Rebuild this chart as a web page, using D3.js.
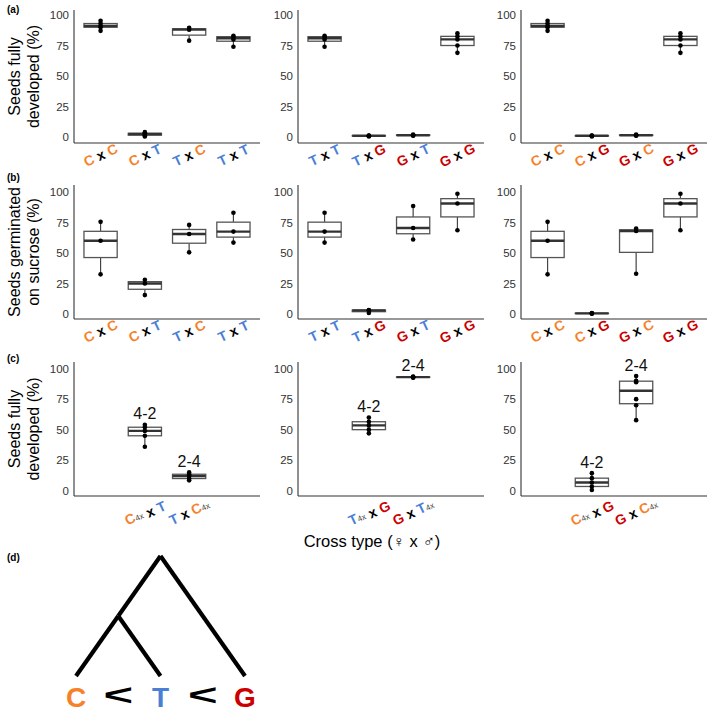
<!DOCTYPE html>
<html>
<head>
<meta charset="utf-8">
<script src="https://cdn.jsdelivr.net/npm/d3@7/dist/d3.min.js"></script>
<style>
  html, body { margin: 0; padding: 0; background: #fff; }
  svg { display: block; }
  text { font-family: 'Liberation Sans', Arial, Helvetica, sans-serif; }
</style>
</head>
<body>
<svg id="chart" width="709" height="712"></svg>
<script>
// ---------------- DATA ----------------
// Row (a): seeds fully developed (%)
const crossesA1 = ["C x C", "C x T", "T x C", "T x T"];
const seedsA1 = [[87, 90, 91, 93, 95.3], [0.5, 1.5, 2.5, 3, 4], [79, 88, 89.5], [74, 80, 82, 83]];
const crossesA2 = ["T x T", "T x G", "G x T", "G x G"];
const seedsA2 = [[74, 80, 82, 83], [0.5, 1, 1, 1.2], [1, 1.5, 1.5, 2], [69, 75, 80, 82.5, 85]];
const crossesA3 = ["C x C", "C x G", "G x C", "G x G"];
const seedsA3 = [[87, 90, 91, 93, 95.3], [0.5, 1, 1, 1.3], [1, 1.5, 1.5, 2], [69, 75, 80, 82.5, 85]];

// Row (b): seeds germinated on sucrose (%)
const crossesB1 = ["C x C", "C x T", "T x C", "T x T"];
const germB1 = [[32.5, 60, 75.5], [15.5, 25, 28], [50.5, 65.5, 73], [58.5, 67.5, 83]];
const crossesB2 = ["T x T", "T x G", "G x T", "G x G"];
const germB2 = [[58.5, 67.5, 83], [0.8, 3, 3.3], [61, 70.5, 88.5], [68.6, 90.5, 98.5]];
const crossesB3 = ["C x C", "C x G", "G x C", "G x G"];
const germB3 = [[32.5, 60, 75.5], [0.3, 0.5, 0.8], [33, 68, 70], [68.6, 90.5, 98.5]];

// Row (c): interploidy crosses, seeds fully developed (%)
const crossesC1 = ["C4x x T", "T x C4x"];
const seedsC1 = [[36, 45, 49, 52, 54], [8.5, 10, 12, 13.5, 15]];
const crossesC2 = ["T4x x G", "G x T4x"];
const seedsC2 = [[47, 50, 53.5, 56.5, 60], [92.5, 93, 93, 93.5]];
const crossesC3 = ["C4x x G", "G x C4x"];
const seedsC3 = [[0.6, 3.5, 6.8, 10.3, 14.4], [57.8, 70, 75, 88.8, 90, 93.9]];
const ploidyLabels = ["4-2", "2-4"];

const yTicks = [0, 25, 50, 75, 100];
const rowTitles = [["Seeds fully", "developed (%)"], ["Seeds germinated", "on sucrose (%)"], ["Seeds fully", "developed (%)"]];
const panelTags = ["(a)", "(b)", "(c)", "(d)"];
const xTitle = "Cross type (\u2640 x \u2642)";

// Phylogeny (d)
const treeTips = ["C", "T", "G"];
const treeData = { children: [ { children: [ { name: "C" }, { name: "T" } ] }, { name: "G" } ] };

const speciesColor = { C: "#F5812A", T: "#4A7FD6", G: "#CC0000" };

// ---------------- LAYOUT ----------------
const svg = d3.select("#chart");
const colX = [[74, 260], [298, 484], [521, 707]];
const rowLayout = [
  { top: 10, bottom: 143, lo: -4.9, hi: 104.1, tagY: 9.5, labOff: 12 },
  { top: 185, bottom: 319, lo: -4.1, hi: 105.7, tagY: 177.5, labOff: 12 },
  { top: 362, bottom: 496, lo: -4.3, hi: 105.4, tagY: 358.5, labOff: 16 }
];

const rows = [
  [[crossesA1, seedsA1], [crossesA2, seedsA2], [crossesA3, seedsA3]],
  [[crossesB1, germB1], [crossesB2, germB2], [crossesB3, germB3]],
  [[crossesC1, seedsC1], [crossesC2, seedsC2], [crossesC3, seedsC3]]
];

function addParent(text, p) {
  text.append("tspan").attr("fill", speciesColor[p[0]]).attr("font-weight", "bold").text(p[0]);
  if (p.length > 1) {
    text.append("tspan").attr("font-size", 8).attr("fill", "#444").attr("dy", 2).text(p.slice(1));
    text.append("tspan").attr("dy", -2).text("");
  }
}
function addCrossLabel(text, label) {
  const [fem, male] = label.split(" x ");
  addParent(text, fem);
  text.append("tspan").attr("fill", "#000").attr("font-weight", "bold").text(" x ");
  addParent(text, male);
}

rows.forEach((row, ri) => {
  const L = rowLayout[ri];
  const y = d3.scaleLinear().domain([L.lo, L.hi]).range([L.bottom, L.top]);

  svg.append("text").attr("x", 7).attr("y", L.tagY).attr("dominant-baseline", "central")
    .attr("font-size", 10).attr("font-weight", "bold").text(panelTags[ri]);

  const cy = (L.top + L.bottom) / 2;
  rowTitles[ri].forEach((t, k) => {
    svg.append("text")
      .attr("transform", `translate(${k === 0 ? 14 : 33},${cy}) rotate(-90)`)
      .attr("text-anchor", "middle").attr("dominant-baseline", "central")
      .attr("font-size", 16).attr("fill", "#000").text(t);
  });

  row.forEach(([cats, vals], pi) => {
    const [x0, x1] = colX[pi];
    const x = d3.scalePoint().domain(cats).range([x0, x1]).padding(cats.length === 4 ? 0.6 : 1.6);
    const u = (x1 - x0) / 4.2;
    const g = svg.append("g");

    // axes
    const yAxis = d3.axisLeft(y).tickValues(yTicks).tickSize(0).tickPadding(5);
    const ya = g.append("g").attr("transform", `translate(${x0},0)`).call(yAxis);
    ya.select(".domain").attr("stroke", "#333").attr("stroke-width", 1.1)
      .attr("d", `M0,${L.bottom}V${L.top}`);
    ya.selectAll(".tick text").attr("font-size", 11.5).attr("fill", "#333")
      .attr("font-family", "'Liberation Sans', Arial, sans-serif");
    g.append("line").attr("x1", x0).attr("x2", x1).attr("y1", L.bottom).attr("y2", L.bottom)
      .attr("stroke", "#333").attr("stroke-width", 1.1);

    cats.forEach((c, ci) => {
      const v = vals[ci].slice().sort(d3.ascending);
      const q1 = d3.quantile(v, 0.25), med = d3.quantile(v, 0.5), q3 = d3.quantile(v, 0.75);
      const iqr = q3 - q1;
      const wLo = d3.min(v.filter(d => d >= q1 - 1.5 * iqr));
      const wHi = d3.max(v.filter(d => d <= q3 + 1.5 * iqr));
      const cx = x(c), bw = 0.75 * u;
      const bg = g.append("g");
      bg.append("line").attr("x1", cx).attr("x2", cx).attr("y1", y(wHi)).attr("y2", y(q3))
        .attr("stroke", "#444").attr("stroke-width", 1.2);
      bg.append("line").attr("x1", cx).attr("x2", cx).attr("y1", y(q1)).attr("y2", y(wLo))
        .attr("stroke", "#444").attr("stroke-width", 1.2);
      bg.append("rect").attr("x", cx - bw / 2).attr("width", bw)
        .attr("y", y(q3)).attr("height", Math.max(0, y(q1) - y(q3)))
        .attr("fill", "#fff").attr("stroke", "#555").attr("stroke-width", 1.3);
      bg.append("line").attr("x1", cx - bw / 2).attr("x2", cx + bw / 2).attr("y1", y(med)).attr("y2", y(med))
        .attr("stroke", "#333").attr("stroke-width", 2.4);
      bg.selectAll("circle").data(v).join("circle")
        .attr("cx", cx).attr("cy", d => y(d)).attr("r", 2.3).attr("fill", "#000");

      if (ri === 2) {
        svg.append("text").attr("x", cx).attr("y", y(d3.max(v) + 9))
          .attr("text-anchor", "middle").attr("dominant-baseline", "central")
          .attr("font-size", 16).attr("fill", "#111").text(ploidyLabels[ci]);
      }

      const t = svg.append("text")
        .attr("transform", `translate(${cx},${L.bottom + L.labOff}) rotate(-25)`)
        .attr("text-anchor", "middle").attr("dominant-baseline", "central")
        .attr("font-size", 14).style("white-space", "pre");
      addCrossLabel(t, c);
    });
  });
});

// x-axis title for row (c)
svg.append("text").attr("x", 372).attr("y", 541).attr("text-anchor", "middle")
  .attr("dominant-baseline", "central").attr("font-size", 16.5).attr("fill", "#000").text(xTitle);

// ---------------- (d) TREE ----------------
svg.append("text").attr("x", 7).attr("y", 557.5).attr("dominant-baseline", "central")
  .attr("font-size", 10).attr("font-weight", "bold").text(panelTags[3]);

const tipX = d3.scalePoint().domain(treeTips).range([76, 245]);
const tipY = 676, slope = 1.42;
const root = d3.hierarchy(treeData);
root.each(n => {
  const leaves = n.leaves().map(l => tipX(l.data.name));
  const lo = d3.min(leaves), hi = d3.max(leaves);
  n.px = (lo + hi) / 2;
  n.py = tipY - (hi - lo) / 2 * slope;
});
root.links().forEach(l => {
  svg.append("line").attr("x1", l.source.px).attr("y1", l.source.py)
    .attr("x2", l.target.px).attr("y2", l.target.py)
    .attr("stroke", "#000").attr("stroke-width", 4.2);
});
treeTips.forEach((tp, i) => {
  svg.append("text").attr("x", tipX(tp)).attr("y", 697).attr("text-anchor", "middle")
    .attr("dominant-baseline", "central").attr("font-size", 28).attr("font-weight", "bold")
    .attr("fill", speciesColor[tp]).text(tp);
  if (i < treeTips.length - 1) {
    const mx = (tipX(tp) + tipX(treeTips[i + 1])) / 2;
    svg.append("text").attr("transform", `translate(${mx},695) scale(1.75,1)`)
      .attr("text-anchor", "middle")
      .attr("dominant-baseline", "central").attr("font-size", 29).attr("font-weight", "bold")
      .attr("fill", "#000").text("<");
  }
});
</script>
</body>
</html>
